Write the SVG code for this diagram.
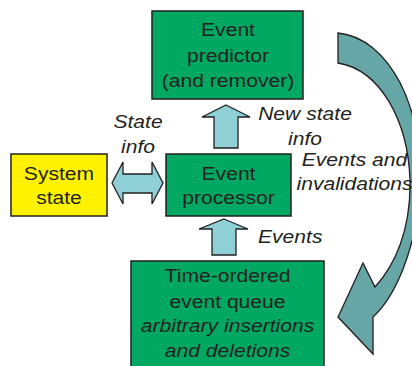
<svg xmlns="http://www.w3.org/2000/svg" width="412" height="366" viewBox="0 0 412 366">
<style>
.box{fill:#00A862;stroke:#231F20;stroke-width:1.5}
.ybox{fill:#FFF200;stroke:#231F20;stroke-width:1.5}
.blk{fill:#8FD0D6;stroke:#231F20;stroke-width:1.3;stroke-linejoin:miter}
.crv{fill:#67A6A6;stroke:#231F20;stroke-width:1.3;stroke-linejoin:miter}
text{font-family:"Liberation Sans",Arial,sans-serif;font-size:18.5px;fill:#231F20;text-anchor:middle}
.it{font-style:italic}
.st{text-anchor:start}
</style>
<rect width="412" height="366" fill="#FFFFFF"/>
<g id="connectors">
<path class="crv" d="M338,33 C390,38 425,110 420,190 C416,250 395,297 373,317 L373,354 L338,317 L363,263 L375,287 C395,265 411,230 410,180 C408,120 380,70 338,63 Z"/>
<path class="blk" d="M226,105 L250,117 L238,117 L238,148 L214,148 L214,117 L202,117 Z"/>
<path class="blk" d="M224,219 L248,229 L236,229 L236,255 L212,255 L212,229 L199,229 Z"/>
<path class="blk" d="M112,183 L123,162 L123,174 L152,174 L152,162 L163,183 L152,204 L152,193 L123,193 L123,204 Z"/>
<text class="it" transform="translate(138,128) scale(1.14,1)">State</text>
<text class="it" transform="translate(138,153) scale(1.14,1)">info</text>
<text class="it" transform="translate(305,120) scale(1.14,1)">New state</text>
<text class="it" transform="translate(305,145) scale(1.14,1)">info</text>
<text class="it" transform="translate(354.5,166) scale(1.14,1)">Events and</text>
<text class="it" transform="translate(354.5,190) scale(1.14,1)">invalidations</text>
<text class="it st" transform="translate(258,243) scale(1.14,1)">Events</text>
</g>
<g id="predictor">
<rect class="box" x="152" y="11" width="151" height="88"/>
<text transform="translate(228,36) scale(1.14,1)">Event</text>
<text transform="translate(228,61.5) scale(1.14,1)">predictor</text>
<text transform="translate(228,86.5) scale(1.14,1)">(and remover)</text>
</g>
<g id="processor">
<rect class="box" x="166" y="154" width="125" height="62"/>
<text transform="translate(228.5,180) scale(1.14,1)">Event</text>
<text transform="translate(228.5,204) scale(1.14,1)">processor</text>
</g>
<g id="system">
<rect class="ybox" x="11" y="154" width="96" height="62"/>
<text transform="translate(59,180) scale(1.14,1)">System</text>
<text transform="translate(59,204) scale(1.14,1)">state</text>
</g>
<g id="queue">
<rect class="box" x="131" y="261" width="193" height="110"/>
<text transform="translate(227.5,282) scale(1.14,1)">Time-ordered</text>
<text transform="translate(227.5,307.5) scale(1.14,1)">event queue</text>
<text class="it" transform="translate(227.5,332) scale(1.14,1)">arbitrary insertions</text>
<text class="it" transform="translate(227.5,357) scale(1.14,1)">and deletions</text>
</g>
</svg>
